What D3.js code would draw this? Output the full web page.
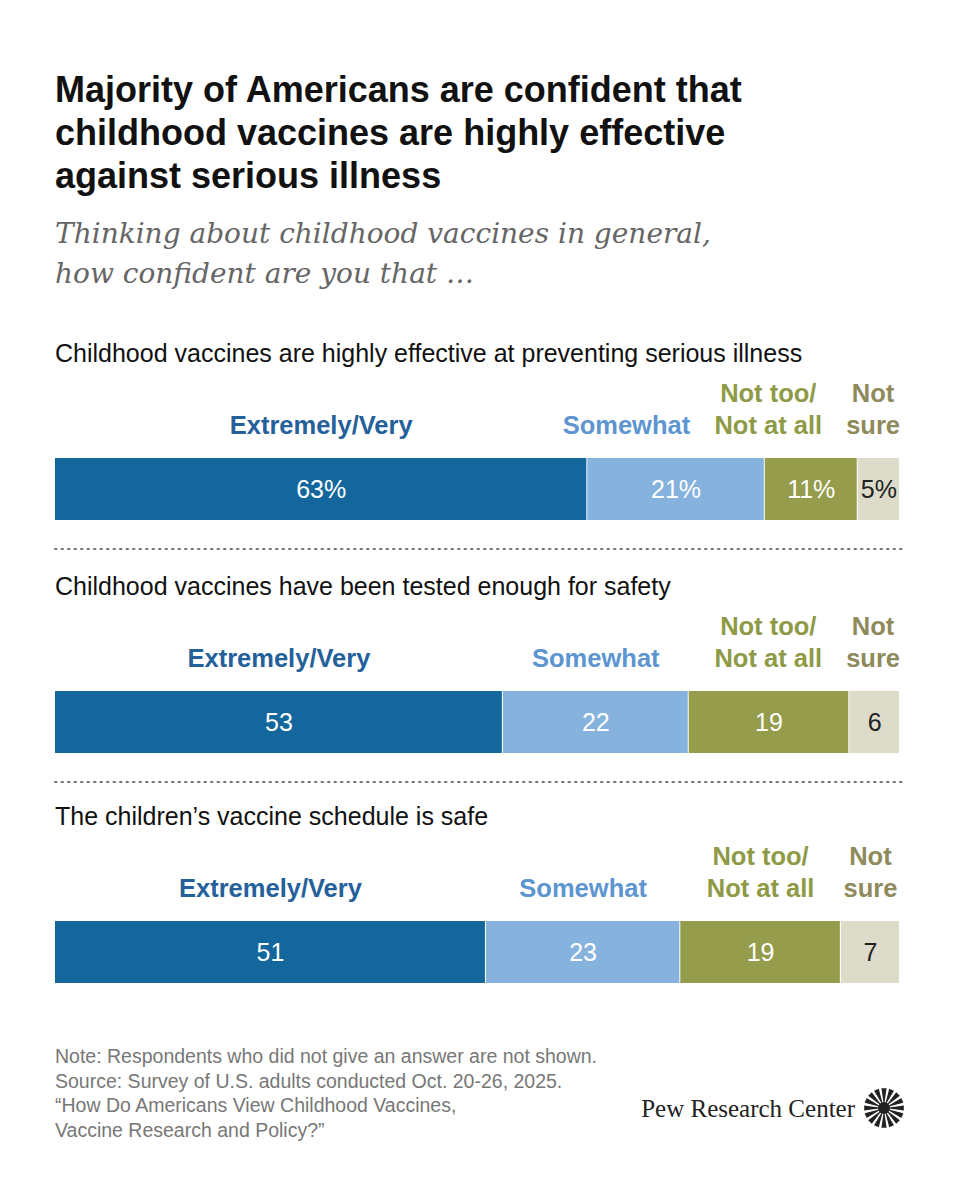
<!DOCTYPE html>
<html>
<head>
<script src="https://d3js.org/d3.v7.min.js"></script>
<style>
body { margin: 0; background: #fff; }
text { font-family: "Liberation Sans", Arial, sans-serif; }
</style>
</head>
<body>
<script>
// data
const questions = ["Childhood vaccines are highly effective at preventing serious illness",
  "Childhood vaccines have been tested enough for safety",
  "The children\u2019s vaccine schedule is safe"]
const categories = ["Extremely/Very", "Somewhat", "Not too/Not at all", "Not sure"]
const headerLines = [["Extremely/Very"], ["Somewhat"], ["Not too/", "Not at all"], ["Not", "sure"]]
const values = [[63, 21, 11, 5], [53, 22, 19, 6], [51, 23, 19, 7]]

const fills = ["#13679c", "#86b2de", "#959c4b", "#dddbc9"]
const headColors = ["#24609a", "#5c95d0", "#8e9a45", "#8f8a5c"]
const valColors = ["#fff", "#fff", "#fff", "#222"]

const svg = d3.select("body").append("svg").attr("width", 960).attr("height", 1200)

const x = d3.scaleLinear().domain([0, 100]).range([55, 900])

// title
const title = ["Majority of Americans are confident that", "childhood vaccines are highly effective", "against serious illness"]
title.forEach((t, i) => svg.append("text").attr("x", 55).attr("y", 102 + i * 43)
  .attr("font-size", 36).attr("font-weight", "bold").attr("fill", "#111").text(t))
const sub = ["Thinking about childhood vaccines in general,", "how confident are you that \u2026"]
sub.forEach((t, i) => svg.append("text").attr("x", 55).attr("y", 243 + i * 40)
  .style("font-family", "'DejaVu Serif', 'Liberation Serif', serif").attr("font-style", "italic")
  .attr("font-size", 28).attr("fill", "#666").text(t))

const blockTop = [0, 233, 463]
questions.forEach((q, qi) => {
  const g = svg.append("g").attr("transform", `translate(0,${blockTop[qi]})`)
  g.append("text").attr("x", 55).attr("y", 362).attr("font-size", 25).attr("fill", "#111").text(q)

  const v = values[qi]
  const starts = v.map((d, i) => d3.sum(v.slice(0, i)))

  g.selectAll("rect").data(v).join("rect")
    .attr("x", (d, i) => x(starts[i])).attr("y", 458)
    .attr("width", d => x(d) - x(0) - 1).attr("height", 62)
    .attr("fill", (d, i) => fills[i])

  g.selectAll("text.val").data(v).join("text").attr("class", "val")
    .attr("x", (d, i) => x(starts[i] + d / 2)).attr("y", 498)
    .attr("text-anchor", "middle").attr("font-size", 25)
    .attr("fill", (d, i) => valColors[i])
    .text((d, i) => qi === 0 ? d + "%" : d)

  // header labels, pushed left if they overlap
  const heads = headerLines.map((lines, i) => {
    const t = g.append("text").attr("font-size", 25.5).attr("font-weight", "bold")
      .attr("fill", headColors[i]).attr("text-anchor", "middle")
    lines.forEach((l, li) => t.append("tspan").attr("x", 0)
      .attr("y", lines.length === 2 ? 402 + li * 32 : 434).text(l))
    return { t, w: t.node().getBBox().width, c: x(starts[i] + v[i] / 2) }
  })
  let limit = 900
  for (let i = heads.length - 1; i >= 0; i--) {
    const h = heads[i]
    if (h.c + h.w / 2 > limit) h.c = limit - h.w / 2
    limit = h.c - h.w / 2 - 24
    h.t.selectAll("tspan").attr("x", h.c)
  }

  if (qi < 2) g.append("line").attr("x1", 55).attr("x2", 905).attr("y1", 549).attr("y2", 549)
    .attr("stroke", "#777").attr("stroke-width", 2).attr("stroke-dasharray", "1.5 5")
    .attr("stroke-linecap", "round")
})

const notes = ["Note: Respondents who did not give an answer are not shown.",
  "Source: Survey of U.S. adults conducted Oct. 20-26, 2025.",
  "\u201cHow Do Americans View Childhood Vaccines,",
  "Vaccine Research and Policy?\u201d"]
notes.forEach((t, i) => svg.append("text").attr("x", 55).attr("y", 1063 + i * 24.5)
  .attr("font-size", 19.5).attr("fill", "#777").text(t))

svg.append("text").attr("x", 855).attr("y", 1117).attr("text-anchor", "end")
  .style("font-family", "'Liberation Serif', serif").attr("font-size", 25).attr("fill", "#222")
  .text("Pew Research Center")
const logo = svg.append("g").attr("transform", "translate(884,1108)")
d3.range(16).forEach(i => {
  const a = i * Math.PI / 8
  logo.append("path")
    .attr("d", `M${Math.cos(a - 0.09) * 5},${Math.sin(a - 0.09) * 5}L${Math.cos(a - 0.13) * 20},${Math.sin(a - 0.13) * 20}L${Math.cos(a + 0.13) * 20},${Math.sin(a + 0.13) * 20}L${Math.cos(a + 0.09) * 5},${Math.sin(a + 0.09) * 5}Z`)
    .attr("fill", "#222")
})
logo.append("circle").attr("r", 6).attr("fill", "#222")
</script>
</body>
</html>
